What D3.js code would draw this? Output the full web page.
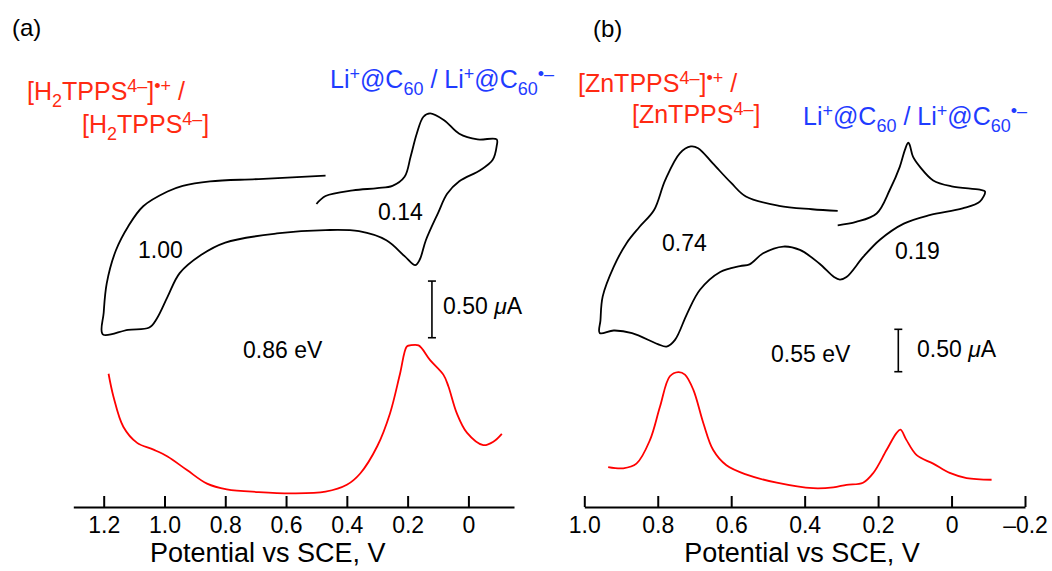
<!DOCTYPE html>
<html>
<head>
<meta charset="utf-8">
<script src="https://cdn.jsdelivr.net/npm/d3@7"></script>
<style>
  html, body { margin: 0; padding: 0; background: #fff; }
  svg { display: block; font-family: "Liberation Sans", Arial, Helvetica, sans-serif; }
</style>
</head>
<body>
<div id="chart"></div>
<script>
'use strict';

// ---- data (potential in V vs SCE, current in uA, arbitrary offset) ----
var ticksA = [1.2, 1.0, 0.8, 0.6, 0.4, 0.2, 0];
var tickLabelsA = ["1.2", "1.0", "0.8", "0.6", "0.4", "0.2", "0"];
var ticksB = [1.0, 0.8, 0.6, 0.4, 0.2, 0, -0.2];
var tickLabelsB = ["1.0", "0.8", "0.6", "0.4", "0.2", "0", "\u20130.2"];

// (a) H2TPPS / Li+@C60 : cyclic voltammogram
var cvA = [
  [0.47, 1.45], [0.69, 1.42], [0.85, 1.40], [0.94, 1.36], [0.99, 1.31], [1.07, 1.18],
  [1.12, 1.00], [1.16, 0.79], [1.19, 0.50], [1.20, 0.24], [1.203, 0.05],
  [1.12, 0.09], [1.05, 0.11], [1.025, 0.19], [0.99, 0.38], [0.95, 0.59], [0.88, 0.75],
  [0.80, 0.86], [0.63, 0.94], [0.47, 0.97], [0.36, 0.96], [0.27, 0.88], [0.21, 0.74],
  [0.175, 0.66], [0.16, 0.71], [0.14, 0.88], [0.10, 1.12], [0.07, 1.29], [0.03, 1.40],
  [-0.04, 1.50], [-0.08, 1.59], [-0.093, 1.71], [-0.093, 1.77],
  [-0.03, 1.77], [0.03, 1.82], [0.08, 1.94], [0.126, 2.00], [0.148, 1.97], [0.17, 1.82],
  [0.19, 1.62], [0.21, 1.44], [0.25, 1.36], [0.30, 1.34], [0.38, 1.32], [0.47, 1.27], [0.50, 1.20]
];
// (a) differential pulse voltammogram
var dpvA = [
  [1.184, 1.07], [1.168, 0.87], [1.135, 0.60], [1.09, 0.46], [1.036, 0.40], [0.99, 0.34],
  [0.926, 0.22], [0.86, 0.10], [0.795, 0.05], [0.69, 0.026], [0.58, 0.015], [0.47, 0.03],
  [0.40, 0.09], [0.356, 0.19], [0.30, 0.43], [0.258, 0.72], [0.225, 1.07], [0.203, 1.31],
  [0.192, 1.32], [0.164, 1.32], [0.126, 1.19], [0.082, 1.06], [0.066, 0.96], [0.038, 0.72],
  [0.005, 0.55], [-0.049, 0.44], [-0.082, 0.47], [-0.11, 0.54]
];

// (b) ZnTPPS / Li+@C60 : cyclic voltammogram
var cvB = [
  [0.31, 1.64], [0.38, 1.66], [0.47, 1.70], [0.56, 1.81], [0.60, 1.97], [0.65, 2.20],
  [0.69, 2.38], [0.71, 2.40], [0.74, 2.32], [0.78, 2.00], [0.81, 1.65], [0.85, 1.45],
  [0.885, 1.26], [0.92, 0.98], [0.95, 0.63], [0.956, 0.35], [0.958, 0.20],
  [0.92, 0.23], [0.87, 0.20], [0.80, 0.07], [0.776, 0.04], [0.753, 0.12], [0.72, 0.43],
  [0.685, 0.71], [0.63, 0.92], [0.576, 0.99], [0.55, 1.01], [0.513, 1.14], [0.458, 1.22],
  [0.413, 1.18], [0.36, 1.02], [0.32, 0.86], [0.304, 0.83], [0.286, 0.86], [0.24, 1.10],
  [0.195, 1.30], [0.13, 1.49], [0.06, 1.59], [-0.03, 1.67], [-0.077, 1.75], [-0.091, 1.87],
  [-0.077, 1.89], [0.00, 1.93], [0.05, 2.00], [0.086, 2.16], [0.105, 2.28], [0.114, 2.42],
  [0.118, 2.445], [0.127, 2.36], [0.141, 2.16], [0.168, 1.89], [0.204, 1.61], [0.26, 1.51], [0.31, 1.47]
];
// (b) differential pulse voltammogram
var dpvB = [
  [0.935, 0.33], [0.894, 0.315], [0.858, 0.37], [0.821, 0.65], [0.794, 1.04], [0.767, 1.40],
  [0.744, 1.45], [0.726, 1.42], [0.703, 1.24], [0.676, 0.85], [0.649, 0.53], [0.613, 0.35],
  [0.558, 0.24], [0.476, 0.145], [0.377, 0.08], [0.322, 0.09], [0.286, 0.12], [0.241, 0.145],
  [0.213, 0.26], [0.177, 0.53], [0.15, 0.73], [0.139, 0.77], [0.123, 0.65], [0.095, 0.47],
  [0.05, 0.37], [0.005, 0.26], [-0.041, 0.20], [-0.109, 0.18]
];

// scale bar (0.50 uA) and potential where it stands
var scaleBarA = { v: 0.12, from: 0.02, to: 0.52 };
var scaleBarB = { v: 0.145, from: -0.256, to: 0.244 };

var RED = "#ff2a12", BLUE = "#1f3cff";
var W = 1052, H = 571, axisY = 507;

var svg = d3.select("#chart").append("svg").attr("width", W).attr("height", H);
svg.append("rect").attr("width", W).attr("height", H).attr("fill", "#fff");

// ---- scales ----
var xA = d3.scaleLinear().domain([1.30, -0.15]).range([73.3, 514]);
var xB = d3.scaleLinear().domain([1.0, -0.2]).range([584.3, 1025]);
var yCvA = d3.scaleLinear().domain([0, 1.5]).range([340, 170]);
var yDpvA = d3.scaleLinear().domain([0, 1.5]).range([495, 325]);
var yCvB = d3.scaleLinear().domain([0, 2]).range([350, 180.4]);
var yDpvB = d3.scaleLinear().domain([0, 2]).range([495, 325.4]);

function lineFor(x, y) {
  return d3.line().x(function (d) { return x(d[0]); }).y(function (d) { return y(d[1]); })
    .curve(d3.curveCatmullRom.alpha(0.5));
}

function drawCurve(data, x, y, color) {
  svg.append("path").datum(data).attr("fill", "none").attr("stroke", color)
    .attr("stroke-width", 1.8).attr("stroke-linejoin", "round").attr("d", lineFor(x, y));
}

drawCurve(cvA, xA, yCvA, "#000");
drawCurve(dpvA, xA, yDpvA, "#f00");
drawCurve(cvB, xB, yCvB, "#000");
drawCurve(dpvB, xB, yDpvB, "#f00");

// ---- axes ----
function drawAxis(x, ticks, labels) {
  var axis = d3.axisBottom(x).tickValues(ticks).tickSizeInner(-11).tickSizeOuter(0).tickPadding(10)
    .tickFormat(function (d, i) { return labels[i]; });
  var g = svg.append("g").attr("transform", "translate(0," + axisY + ")").call(axis);
  g.selectAll("path, line").attr("stroke", "#000").attr("stroke-width", 2);
  g.selectAll("text").attr("fill", "#000").style("font-size", "23px")
    .style("font-family", "'Liberation Sans', Arial, Helvetica, sans-serif");
}
drawAxis(xA, ticksA, tickLabelsA);
drawAxis(xB, ticksB, tickLabelsB);

// ---- scale bars ----
function drawScaleBar(bar, x, y) {
  var cx = x(bar.v), y1 = y(bar.to), y2 = y(bar.from);
  var g = svg.append("g").attr("stroke", "#000").attr("stroke-width", 1.6);
  g.append("line").attr("x1", cx).attr("x2", cx).attr("y1", y1).attr("y2", y2);
  g.append("line").attr("x1", cx - 4).attr("x2", cx + 4).attr("y1", y1).attr("y2", y1);
  g.append("line").attr("x1", cx - 4).attr("x2", cx + 4).attr("y1", y2).attr("y2", y2);
}
drawScaleBar(scaleBarA, xA, yCvA);
drawScaleBar(scaleBarB, xB, yCvB);

// ---- text helpers ----
// parts: [text, shift] where shift is "sub", "sup" or undefined
function richText(x, y, parts, color, size) {
  var t = svg.append("text").attr("x", x).attr("y", y).attr("fill", color).style("font-size", size + "px");
  var cur = 0;
  parts.forEach(function (p) {
    var target = p[1] === "sub" ? size * 0.26 : p[1] === "sup" ? -size * 0.34 : 0;
    t.append("tspan").attr("dy", target - cur)
      .style("font-size", (p[1] ? size * 0.72 : size) + "px").text(p[0]);
    cur = target;
  });
  return t;
}
function plainText(x, y, str, size, anchor) {
  return svg.append("text").attr("x", x).attr("y", y).attr("fill", "#000")
    .attr("text-anchor", anchor || "start").style("font-size", size + "px").text(str);
}

plainText(12, 36, "(a)", 24);
plainText(593, 37, "(b)", 24);

var liLabel = [["Li"], ["+", "sup"], ["@C"], ["60", "sub"], [" / Li"], ["+", "sup"], ["@C"], ["60", "sub"], ["\u2022\u2013", "sup"]];
richText(330, 88, liLabel, BLUE, 25);
richText(803, 125, liLabel, BLUE, 25);

richText(27, 100, [["[H"], ["2", "sub"], ["TPPS"], ["4\u2013", "sup"], ["]"], ["\u2022+", "sup"], [" /"]], RED, 25);
richText(82, 133, [["[H"], ["2", "sub"], ["TPPS"], ["4\u2013", "sup"], ["]"]], RED, 25);
richText(578, 92, [["[ZnTPPS"], ["4\u2013", "sup"], ["]"], ["\u2022+", "sup"], [" /"]], RED, 25);
richText(632, 123, [["[ZnTPPS"], ["4\u2013", "sup"], ["]"]], RED, 25);

plainText(138, 258, "1.00", 23);
plainText(378, 220, "0.14", 23);
plainText(243, 358, "0.86 eV", 23);
plainText(662, 251, "0.74", 23);
plainText(895, 259, "0.19", 23);
plainText(771, 362, "0.55 eV", 23);

function currentLabel(x, y) {
  var t = plainText(x, y, "0.50 ", 23);
  t.append("tspan").style("font-style", "italic").text("\u03bc");
  t.append("tspan").text("A");
}
currentLabel(443, 314);
currentLabel(917, 357);

plainText(267.7, 562, "Potential vs SCE, V", 27, "middle");
plainText(802, 562, "Potential vs SCE, V", 27, "middle");
</script>
</body>
</html>
